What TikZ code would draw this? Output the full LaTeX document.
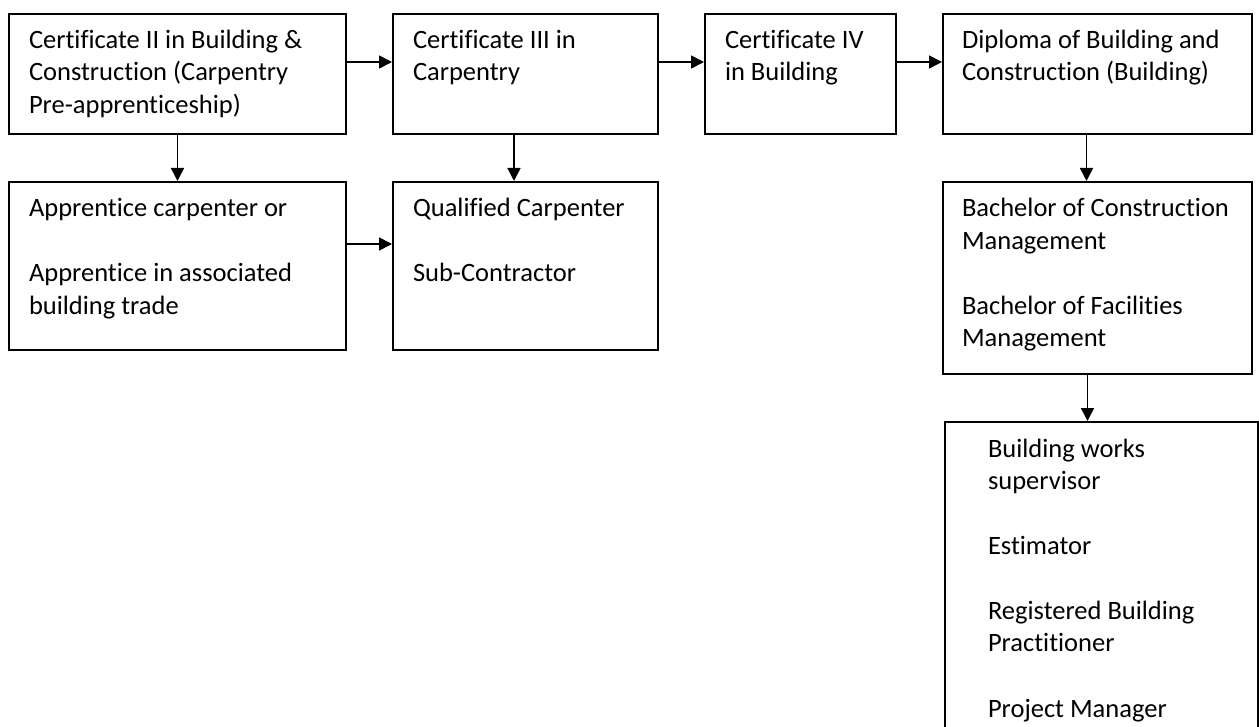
\documentclass[tikz,border=0pt]{standalone}
\usepackage{fontspec}
\setmainfont[Ligatures={NoCommon}]{Carlito}
\usetikzlibrary{arrows.meta,calc}
\tikzset{
  box/.style={draw=black, line width=2pt, rectangle, anchor=north west, inner sep=0pt},
  txt/.style={anchor=base west, inner sep=0pt, outer sep=0pt},
  arr/.style={line width=1.6pt, -{Triangle[length=13pt,width=13pt]}},
}
\newcommand{\boxtext}[1]{\parbox[t]{320pt}{\fontsize{26.5}{32.5}\selectfont\raggedright #1}}
\begin{document}
\begin{tikzpicture}[x=1pt,y=1pt]
\useasboundingbox (0,0) rectangle (1259,-727);
\clip (0,0) rectangle (1259,-727);
% boxes
\node[box, minimum width=337pt, minimum height=120pt] (a) at (8,-13) {};
\node[box, minimum width=265pt, minimum height=120pt] (b) at (392,-13) {};
\node[box, minimum width=191pt, minimum height=120pt] (c) at (704,-13) {};
\node[box, minimum width=309pt, minimum height=120pt] (d) at (942,-13) {};
\node[box, minimum width=337pt, minimum height=168pt] (e) at (8,-181) {};
\node[box, minimum width=265pt, minimum height=168pt] (f) at (392,-181) {};
\node[box, minimum width=309pt, minimum height=192pt] (g) at (942,-181) {};
\node[box, minimum width=313pt, minimum height=330pt] (h) at (944,-421) {};
% texts
\node[txt] (at) at ($(a.north west)+(21,-35.5)$) {\boxtext{Certificate II in Building \&\\Construction (Carpentry\\Pre-apprenticeship)}};
\node[txt] (bt) at ($(b.north west)+(21,-35.5)$) {\boxtext{Certificate III in\\Carpentry}};
\node[txt] (ct) at ($(c.north west)+(21,-35.5)$) {\boxtext{Certificate IV\\in Building}};
\node[txt] (dt) at ($(d.north west)+(20,-35.5)$) {\boxtext{Diploma of Building and\\Construction (Building)}};
\node[txt] (et) at ($(e.north west)+(21,-36)$) {\boxtext{Apprentice carpenter or\\[32.5pt]Apprentice in associated\\building trade}};
\node[txt] (ft) at ($(f.north west)+(21,-36)$) {\boxtext{Qualified Carpenter\\[32.5pt]Sub-Contractor}};
\node[txt] (gt) at ($(g.north west)+(20,-36)$) {\boxtext{Bachelor of Construction\\Management\\[32.5pt]Bachelor of Facilities\\Management}};
\node[txt] (ht) at ($(h.north west)+(44,-36)$) {\boxtext{Building works\\supervisor\\[32.5pt]Estimator\\[32.5pt]Registered Building\\Practitioner\\[32.5pt]Project Manager}};
% connectors
\draw[arr] ([yshift=12pt]a.east) -- ([yshift=12pt]b.west);
\draw[arr] ([yshift=12pt]b.east) -- ([yshift=12pt]c.west);
\draw[arr] ([yshift=12pt]c.east) -- ([yshift=12pt]d.west);
\draw[arr] (a.south) -- (e.north);
\draw[arr] ([xshift=-11.5pt]b.south) -- ([xshift=-11.5pt]f.north);
\draw[arr] ([yshift=22pt]e.east) -- ([yshift=22pt]f.west);
\draw[arr] ([xshift=-11pt]d.south) -- ([xshift=-11pt]g.north);
\draw[arr] ([xshift=-10pt]g.south) -- ([xshift=-10pt]g.south |- h.north);
\end{tikzpicture}
\end{document}
